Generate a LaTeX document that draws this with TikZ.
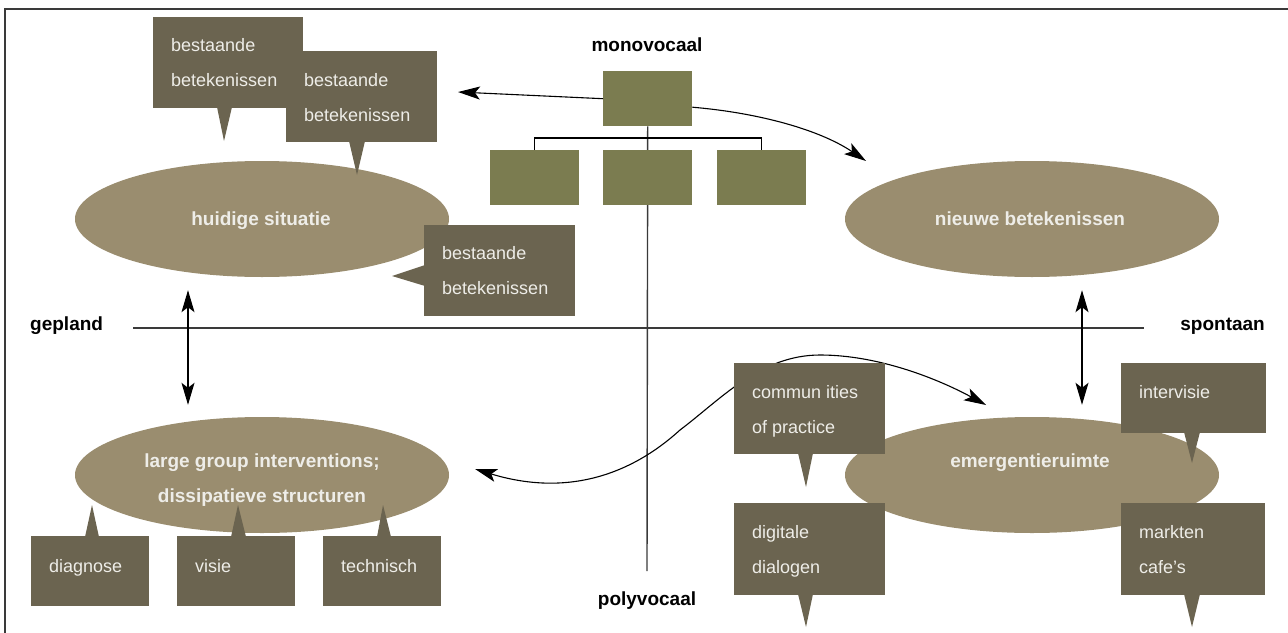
\documentclass[tikz,border=0pt]{standalone}
\usepackage{fontspec}
\setmainfont{Liberation Sans}
\usetikzlibrary{shapes.geometric,arrows.meta,calc}
\definecolor{calloutc}{HTML}{6B6450}
\definecolor{ellc}{HTML}{9A8D6F}
\definecolor{greenc}{HTML}{7B7C50}
\definecolor{axisc}{HTML}{3A3A3A}
\definecolor{ltext}{HTML}{EEEDE8}
\newcommand{\twolines}[2]{\vtop{\baselineskip=35pt\lineskiplimit=-100pt\hbox{#1}\hbox{#2}}}
\begin{document}
\begin{tikzpicture}[x=1pt,y=-1pt,
  >={Stealth[length=22pt,width=13pt,inset=5pt]},
  cbox/.style={fill=calloutc, draw=none, inner sep=0pt, anchor=north west},
  gbox/.style={fill=greenc, draw=none, inner sep=0pt, anchor=north west, minimum width=89pt, minimum height=55pt},
  ell/.style={ellipse, fill=ellc, draw=none, inner sep=0pt, minimum width=374pt, minimum height=116pt},
  ctext/.style={anchor=base west, inner sep=0pt, text=ltext, font=\fontsize{18}{35}\selectfont},
  etext/.style={anchor=base, inner sep=0pt, text=ltext, font=\bfseries\fontsize{19}{35}\selectfont},
  lab/.style={inner sep=0pt, text=black, font=\bfseries\fontsize{19}{22}\selectfont},
  axis/.style={draw=axisc, line width=1.4pt},
  arr/.style={draw=black, line width=1.1pt, ->},
  dbl/.style={draw=black, line width=1.1pt, <->}]
\useasboundingbox (0,0) rectangle (1288,632);
% frame
\draw[line width=2pt, draw=axisc] (4.5,640) -- (4.5,9) -- (1295,9);

% axes
\node[lab, anchor=base west] (gep) at (30,330) {gepland};
\node[lab, anchor=base east] (spo) at (1265,330) {spontaan};
\node[lab, anchor=base] (mono) at (647,51) {monovocaal};
\node[lab, anchor=base] (poly) at (647,605) {polyvocaal};
\coordinate (hl) at (133,328);
\coordinate (hr) at (1144,328);
\coordinate (vb) at (647,571);
\draw[axis] (hl) -- (hr);

% tree
\node[gbox] (g0) at (603,71) {};
\node[gbox] (g1) at (490,150) {};
\node[gbox] (g2) at (603,150) {};
\node[gbox] (g3) at (717,150) {};
\draw[axis] (g0.south) -- (vb);
\draw[draw=black, line width=1.1pt] (g1.north) -- ++(0,-12) -| (g3.north);
\node[gbox] at (603,150) {};

% ellipses
\node[ell] (hs) at (262,219) {};
\node[ell] (nb) at (1032,219) {};
\node[ell] (lg) at (262,475) {};
\node[ell] (em) at (1032,475) {};
\node[etext] at (261,225) {huidige situatie};
\node[etext] at (1030,225) {nieuwe betekenissen};
\node[etext] at (262,467) {large group interventions;};
\node[etext] at (262,502) {dissipatieve structuren};
\node[etext] at (1030,467) {emergentieruimte};

% arrows
\coordinate (al) at (458,92);
\coordinate (ar) at (866,161);
\draw[arr] (g0.west) -- (al);
\draw[arr] ([yshift=-8.5pt]g0.east) .. controls (760,113) and (820,130) .. (ar);
\coordinate (la) at (188,0);
\coordinate (ra) at (1082,0);
\draw[dbl, shorten <=13pt, shorten >=12pt] (hs.south -| la) -- (lg.north -| la);
\draw[dbl, shorten <=13pt, shorten >=12pt] (nb.south -| ra) -- (em.north -| ra);
\coordinate (sl) at (475,469);
\coordinate (sr) at (986,405);
\draw[dbl] (sl) .. controls (560,495) and (625,480) .. (680,430)
  .. controls (720,400) and (760,355) .. (820,355)
  .. controls (880,355) and (940,380) .. (sr);

% callouts top-left
\node[cbox, minimum width=150pt, minimum height=91pt] (ca) at (153,17) {};
\fill[calloutc] (217,107) -- (224,141) -- (232,107) -- cycle;
\node[ctext] at (171,51) {\twolines{bestaande}{betekenissen}};
\node[cbox, minimum width=151pt, minimum height=91pt] (cb) at (286,51) {};
\fill[calloutc] (349,141) -- (357,175) -- (365,141) -- cycle;
\node[ctext] at (304,86) {\twolines{bestaande}{betekenissen}};
\node[cbox, minimum width=151pt, minimum height=91pt] (cc) at (424,225) {};
\fill[calloutc] (425,265) -- (392,276) -- (425,286) -- cycle;
\node[ctext] at (442,259) {\twolines{bestaande}{betekenissen}};

% callouts bottom-left
\node[cbox, minimum width=118pt, minimum height=70pt] (cd) at (31,536) {};
\fill[calloutc] (85,537) -- (92,505) -- (99,537) -- cycle;
\node[ctext] at (49,572) {diagnose};
\node[cbox, minimum width=118pt, minimum height=70pt] (cv) at (177,536) {};
\fill[calloutc] (231,537) -- (238,505) -- (246,537) -- cycle;
\node[ctext] at (195,572) {visie};
\node[cbox, minimum width=118pt, minimum height=70pt] (ct) at (323,536) {};
\fill[calloutc] (377,537) -- (383,505) -- (391,537) -- cycle;
\node[ctext] at (341,572) {technisch};

% callouts right
\node[cbox, minimum width=151pt, minimum height=91pt] (cp) at (734,363) {};
\fill[calloutc] (798,453) -- (806,487) -- (813,453) -- cycle;
\node[ctext] at (752,398) {\twolines{commun ities}{of practice}};
\node[cbox, minimum width=151pt, minimum height=92pt] (cg) at (734,503) {};
\fill[calloutc] (798,594) -- (806,627) -- (813,594) -- cycle;
\node[ctext] at (752,538) {\twolines{digitale}{dialogen}};
\node[cbox, minimum width=145pt, minimum height=70pt] (ci) at (1121,363) {};
\fill[calloutc] (1184,432) -- (1192,463) -- (1200,432) -- cycle;
\node[ctext] at (1139,398) {intervisie};
\node[cbox, minimum width=144pt, minimum height=92pt] (cm) at (1121,503) {};
\fill[calloutc] (1184,594) -- (1192,627) -- (1200,594) -- cycle;
\node[ctext] at (1139,538) {\twolines{markten}{cafe’s}};
\end{tikzpicture}
\end{document}
